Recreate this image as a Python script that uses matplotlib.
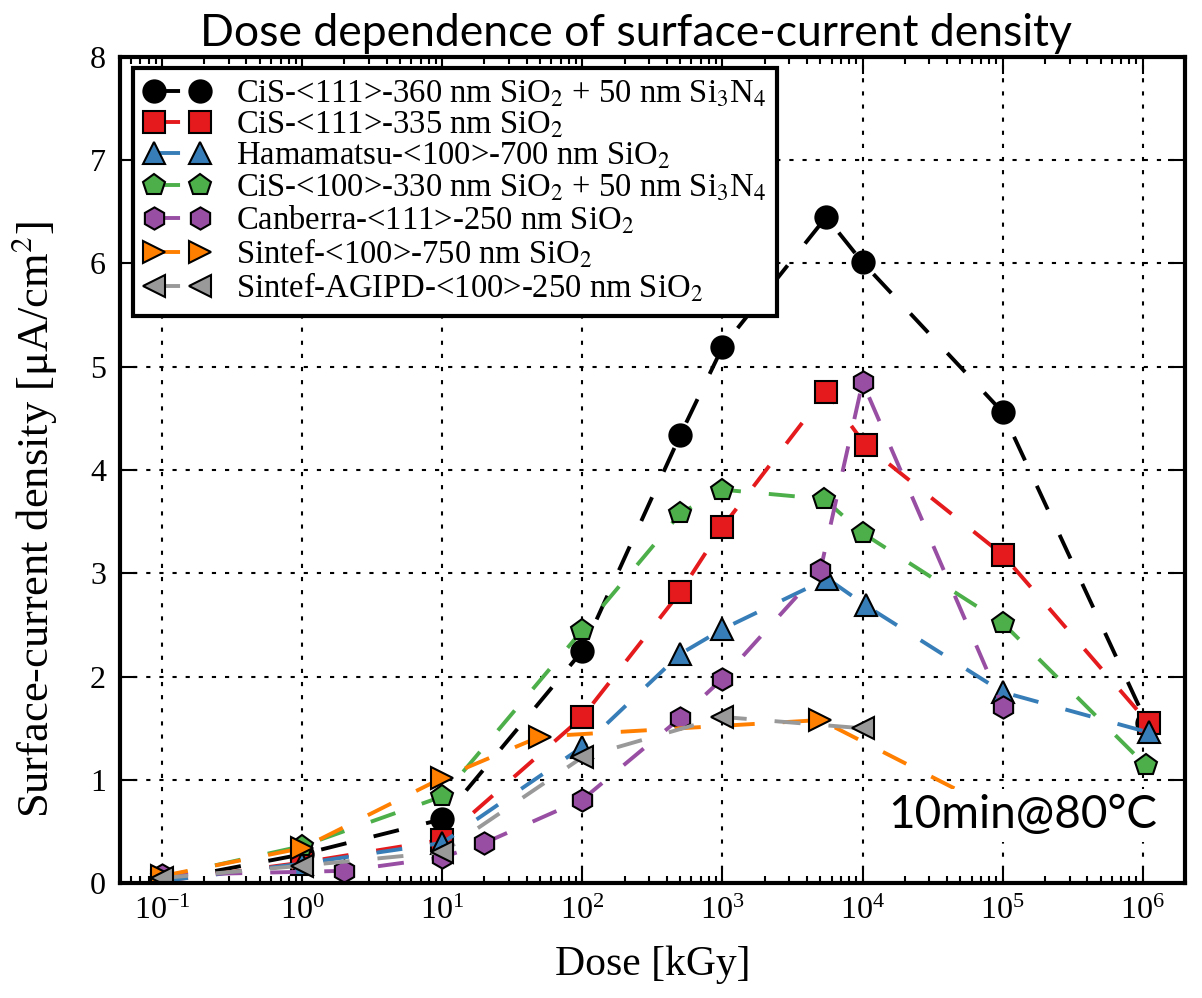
import numpy as np
import matplotlib
matplotlib.use("Agg")
import matplotlib.pyplot as plt
from matplotlib.ticker import LogLocator, NullFormatter

plt.rcParams['font.family'] = 'serif'
plt.rcParams['font.serif'] = ['Liberation Serif', 'DejaVu Serif']
plt.rcParams['mathtext.fontset'] = 'stix'

# dose [kGy] and surface-current density [uA/cm^2] for each sensor
cis111_nit_dose = [0.1, 1, 10, 100, 500, 1000, 5500, 1e4, 1e5, 1.07e6]
cis111_nit_val = [0.02, 0.28, 0.62, 2.25, 4.34, 5.19, 6.45, 6.01, 4.56, 1.55]

cis111_dose = [0.1, 1, 10, 100, 500, 1000, 5500, 1.05e4, 1e5, 1.1e6]
cis111_val = [0.02, 0.2, 0.42, 1.61, 2.82, 3.45, 4.76, 4.24, 3.18, 1.55]

hpk_dose = [0.1, 1, 10, 100, 500, 1000, 5600, 1.05e4, 1e5, 1.1e6]
hpk_val = [0.02, 0.19, 0.39, 1.32, 2.22, 2.46, 2.95, 2.69, 1.85, 1.46]

cis100_nit_dose = [0.1, 1, 10, 100, 500, 1000, 5300, 1e4, 1e5, 1.05e6]
cis100_nit_val = [0.06, 0.36, 0.84, 2.45, 3.58, 3.81, 3.72, 3.39, 2.52, 1.14]

canberra_dose = [0.1, 2, 10, 20, 100, 500, 1000, 5000, 1e4, 1e5]
canberra_val = [0.08, 0.12, 0.25, 0.39, 0.81, 1.60, 1.98, 3.03, 4.85, 1.71]

sintef_dose = [0.1, 1, 10, 50, 5000, 1e5]
sintef_val = [0.07, 0.34, 1.02, 1.42, 1.58, 0.68]

agipd_dose = [0.1, 1, 10, 100, 1000, 1e4]
agipd_val = [0.05, 0.17, 0.30, 1.22, 1.61, 1.50]

labels = [
    r'CiS-<111>-360 nm SiO$_2$ + 50 nm Si$_3$N$_4$',
    r'CiS-<111>-335 nm SiO$_2$',
    r'Hamamatsu-<100>-700 nm SiO$_2$',
    r'CiS-<100>-330 nm SiO$_2$ + 50 nm Si$_3$N$_4$',
    r'Canberra-<111>-250 nm SiO$_2$',
    r'Sintef-<100>-750 nm SiO$_2$',
    r'Sintef-AGIPD-<100>-250 nm SiO$_2$',
]
colors = ['k', '#e41a1c', '#377eb8', '#4daf4a', '#984ea3', '#ff7f00', '#999999']
markers = ['o', 's', '^', 'p', 'h', '>', '<']

series = [
    (cis111_nit_dose, cis111_nit_val),
    (cis111_dose, cis111_val),
    (hpk_dose, hpk_val),
    (cis100_nit_dose, cis100_nit_val),
    (canberra_dose, canberra_val),
    (sintef_dose, sintef_val),
    (agipd_dose, agipd_val),
]

fig = plt.figure(figsize=(12.02, 9.98), dpi=100)
ax = fig.add_axes([0.0998, 0.115, 0.886, 0.828])

for (d, v), lab, c, m in zip(series, labels, colors, markers):
    ax.plot(d, v, linestyle='--', dashes=(6.7, 7.2), color=c, lw=2.8,
            marker=m, markersize=16, markerfacecolor=c,
            markeredgecolor='k', markeredgewidth=1.5, label=lab)

ax.set_xscale('log')
ax.set_xlim(0.05, 2e6)
ax.set_ylim(0, 8)
ax.set_xticks([10.0 ** k for k in range(-1, 7)])
ax.set_yticks(range(0, 9))
ax.xaxis.set_minor_locator(LogLocator(base=10, subs=np.arange(2, 10)))
ax.xaxis.set_minor_formatter(NullFormatter())

ax.grid(True, which='major', linestyle=(0, (2, 4.3)), color='k', lw=1.5)
ax.tick_params(which='both', direction='in', top=True, right=True,
               labelsize=23, width=1.5)
ax.tick_params(which='major', length=12, pad=10)
ax.tick_params(which='minor', length=5)
for s in ax.spines.values():
    s.set_linewidth(3)

ax.set_xlabel('Dose [kGy]', fontsize=30, labelpad=14)
ax.set_ylabel(r'Surface-current density [μA/cm$^2$]', fontsize=32)
ax.yaxis.set_label_coords(-0.057, 0.44)
ax.set_title('Dose dependence of surface-current density',
             fontsize=32, family='Lato', pad=8, x=0.485)

ax.text(0.974, 0.082, '10min@80°C', transform=ax.transAxes, ha='right',
        va='center', fontsize=33, family='Lato',
        bbox=dict(facecolor='white', edgecolor='none', pad=4))

leg = ax.legend(loc='upper left', numpoints=2, fontsize=23.5, handlelength=2.0,
                handletextpad=0.8, labelspacing=0.02, borderpad=0.35,
                borderaxespad=0, fancybox=False, framealpha=1, edgecolor='k',
                bbox_to_anchor=(0.012, 0.987))
leg.get_frame().set_linewidth(3)

fig.savefig('out.png', dpi=100)
